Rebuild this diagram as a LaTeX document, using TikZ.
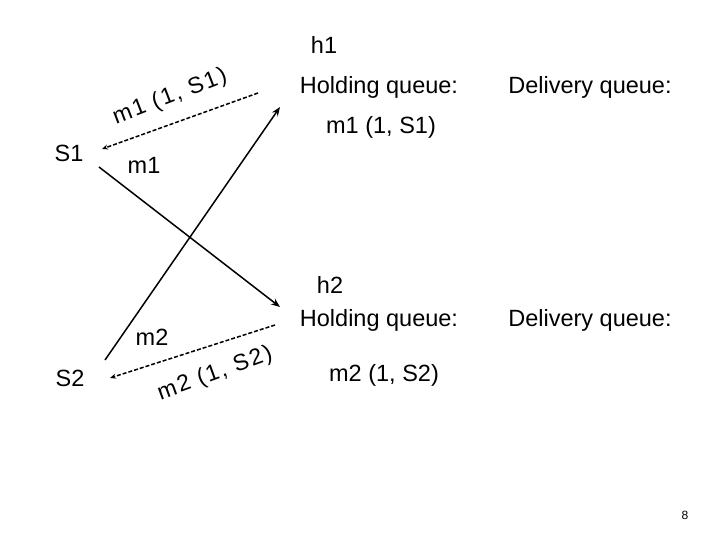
\documentclass[tikz,border=0pt]{standalone}
\usepackage{fontspec}
\setmainfont{Liberation Sans}
\newfontfamily\spacedfont[LetterSpace=8]{Liberation Sans}
\usetikzlibrary{arrows.meta}
\begin{document}
\begin{tikzpicture}[x=1pt,y=-1pt,
  lbl/.style={inner sep=0pt,font=\fontsize{23.5}{27}\selectfont},
  slbl/.style={inner sep=0pt,font=\spacedfont\fontsize{23}{27}\selectfont},
  msg/.style={line width=1.5pt,-{Stealth[length=9pt,width=7pt]}},
  reply/.style={line width=1.5pt,dash pattern=on 4pt off 2pt,-{Stealth[length=6pt,width=5pt]}}]
\useasboundingbox (0,0) rectangle (720,540);
% processes
\node[lbl] (S1) at (69,153) {S1};
\node[lbl] (S2) at (70,378) {S2};
% host h1
\node[lbl] (h1) at (324,45) {h1};
\node[lbl] (hq1) at (379,87) {Holding queue:};
\node[lbl] (dq1) at (590,87) {Delivery queue:};
\node[lbl] (q1) at (381,127) {m1 (1, S1)};
% host h2
\node[lbl] (h2) at (330,285) {h2};
\node[lbl] (hq2) at (379,320) {Holding queue:};
\node[lbl] (dq2) at (590,320) {Delivery queue:};
\node[lbl] (q2) at (384,375) {m2 (1, S2)};
% connector end points
\coordinate (a1s) at (99,167);
\coordinate (a1e) at (280,307);
\coordinate (a2s) at (105,360);
\coordinate (a2e) at (280,107);
\coordinate (r1s) at (258,93);
\coordinate (r1e) at (102,149);
\coordinate (r2s) at (275,325);
\coordinate (r2e) at (110,378);
% messages
\draw[msg] (a1s) -- (a1e);
\draw[msg] (a2s) -- (a2e);
\draw[reply] (r1s) -- (r1e);
\draw[reply] (r2s) -- (r2e);
% labels
\node[lbl] (m1) at (144,165) {m1};
\node[lbl] (m2) at (152,337) {m2};
\node[slbl,rotate=21] (m1l) at (170,97) {m1 (1, S1)};
\node[slbl,rotate=20] (m2l) at (215,374) {m2 (1, S2)};
% page number
\node[inner sep=0pt,font=\fontsize{12}{14}\selectfont] (pg) at (685,515) {8};
\end{tikzpicture}
\end{document}
